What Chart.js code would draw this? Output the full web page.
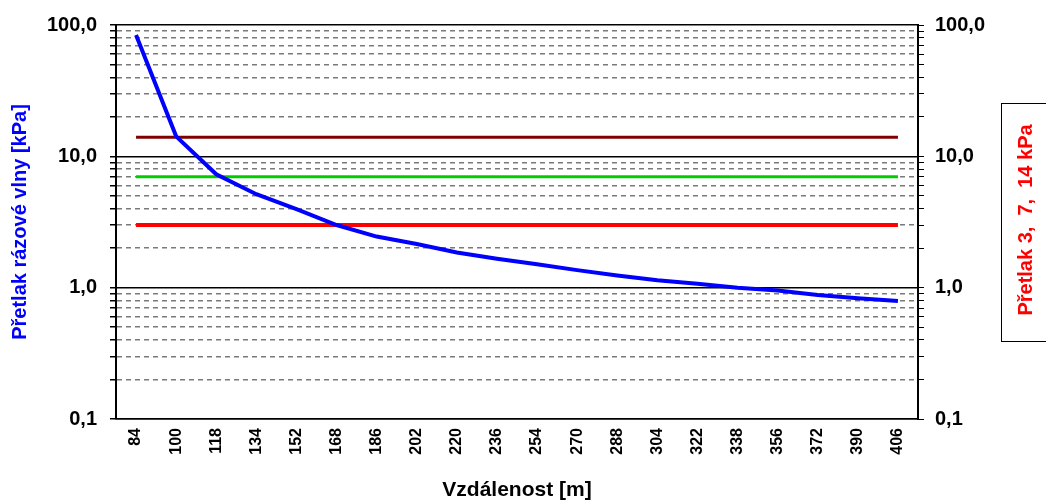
<!DOCTYPE html>
<html>
<head>
<meta charset="utf-8">
<script src="https://cdn.jsdelivr.net/npm/chart.js@4"></script>
<style>
  body { margin: 0; background: #fff; }
  canvas { display: block; }
</style>
</head>
<body>
<canvas id="chart" width="1046" height="504"></canvas>
<script>
// ==== Data ====
const distances = ["84", "100", "118", "134", "152", "168", "186", "202", "220", "236",
  "254", "270", "288", "304", "322", "338", "356", "372", "390", "406"];
const overpressure = [84, 14.2, 7.3, 5.15, 3.96, 3.0, 2.45, 2.15, 1.85, 1.66,
  1.51, 1.36, 1.24, 1.14, 1.07, 1.0, 0.95, 0.88, 0.83, 0.79];
const limit14 = [14, 14, 14, 14, 14, 14, 14, 14, 14, 14, 14, 14, 14, 14, 14, 14, 14, 14, 14, 14];
const limit7 = [7, 7, 7, 7, 7, 7, 7, 7, 7, 7, 7, 7, 7, 7, 7, 7, 7, 7, 7, 7];
const limit3 = [3, 3, 3, 3, 3, 3, 3, 3, 3, 3, 3, 3, 3, 3, 3, 3, 3, 3, 3, 3];
const yTicks = [0.1, 0.2, 0.3, 0.4, 0.5, 0.6, 0.7, 0.8, 0.9,
  1, 2, 3, 4, 5, 6, 7, 8, 9,
  10, 20, 30, 40, 50, 60, 70, 80, 90, 100];
const decades = [0.1, 1, 10, 100];

// ==== Helpers ====
const FONT = "'Liberation Sans', Arial, sans-serif";
const isDecade = (v) => decades.some((d) => Math.abs(d - v) < 1e-9);
const fmt = (v) => (isDecade(v) ? v.toFixed(1).replace(".", ",") : "");

// ==== Right box title ====
const rightBox = {
  id: "rightBox",
  afterDraw(chart) {
    const ctx = chart.ctx;
    ctx.save();
    ctx.strokeStyle = "#000";
    ctx.lineWidth = 1;
    ctx.strokeRect(1001.5, 103.5, 60, 238);
    ctx.translate(1026, 220);
    ctx.rotate(-Math.PI / 2);
    ctx.fillStyle = "#ff0000";
    ctx.font = "bold 20px " + FONT;
    ctx.textAlign = "center";
    ctx.textBaseline = "middle";
    ctx.fillText("Přetlak 3,  7,  14 kPa", 0, 0);
    ctx.restore();
  }
};

const logAxis = (position) => ({
  type: "logarithmic",
  position,
  min: 0.1,
  max: 100,
  afterBuildTicks: (scale) => {
    scale.ticks = yTicks.map((v) => ({ value: v }));
  },
  ticks: {
    autoSkip: false,
    color: "#000",
    padding: position === "left" ? 13 : 11,
    font: { family: FONT, size: 20, weight: "bold" },
    callback: (v) => fmt(v)
  }
});

const yLeft = logAxis("left");
yLeft.afterFit = (scale) => { scale.width = 116; };
yLeft.grid = {
  color: (c) => (c.tick && isDecade(c.tick.value) ? "#000" : "#7a7a7a"),
  lineWidth: (c) => (c.tick && isDecade(c.tick.value) ? 1.5 : 1.5),
  tickColor: "#000",
  tickLength: 6
};
yLeft.border = {
  color: "#000",
  width: 2,
  dash: (c) => (c.tick && !isDecade(c.tick.value) ? [5, 4] : [])
};
yLeft.title = {
  display: true,
  text: "Přetlak rázové vlny [kPa]",
  color: "#0000ff",
  font: { family: FONT, size: 20, weight: "bold" },
  padding: { top: 8, bottom: 0 }
};

const yRight = logAxis("right");
yRight.afterFit = (scale) => { scale.width = 128; };
yRight.grid = { drawOnChartArea: false, tickColor: "#000", tickLength: 6 };
yRight.border = { color: "#000", width: 2 };

// ==== Chart ====
new Chart(document.getElementById("chart"), {
  type: "line",
  data: {
    labels: distances,
    datasets: [
      { data: overpressure, borderColor: "#0000ff", borderWidth: 4, yAxisID: "y" },
      { data: limit14, borderColor: "#800000", borderWidth: 3, yAxisID: "y" },
      { data: limit7, borderColor: "#00cc00", borderWidth: 3, yAxisID: "y" },
      { data: limit3, borderColor: "#ff0000", borderWidth: 4, yAxisID: "y" }
    ]
  },
  options: {
    responsive: false,
    animation: false,
    layout: { padding: { top: 23, left: 0, right: 0, bottom: 0 } },
    elements: { point: { radius: 0 }, line: { tension: 0 } },
    plugins: { legend: { display: false }, tooltip: { enabled: false } },
    scales: {
      x: {
        offset: true,
        afterFit: (scale) => { scale.height = 85; },
        grid: { display: false, drawTicks: false },
        border: { color: "#000", width: 1.5 },
        ticks: {
          autoSkip: false,
          minRotation: 90,
          maxRotation: 90,
          padding: 9,
          color: "#000",
          font: { family: FONT, size: 16, weight: "bold" }
        },
        title: {
          display: true,
          text: "Vzdálenost [m]",
          color: "#000",
          font: { family: FONT, size: 21, weight: "bold" },
          padding: { top: 0, bottom: 1 }
        }
      },
      y: yLeft,
      y2: yRight
    }
  },
  plugins: [rightBox]
});
</script>
</body>
</html>
